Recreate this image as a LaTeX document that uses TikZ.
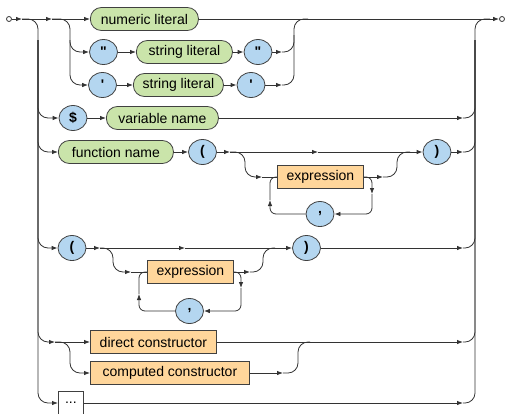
\documentclass[tikz,border=0pt]{standalone}
\usepackage{fontspec}
\setmainfont{Liberation Sans}
\usetikzlibrary{shapes.geometric,arrows.meta}

\definecolor{litgreen}{RGB}{202,228,170}
\definecolor{symblue}{RGB}{180,214,240}
\definecolor{prodorange}{RGB}{255,214,155}

\tikzstyle{track}=[draw=black!80, line width=0.8pt, rounded corners=10pt]
\tikzstyle{arr}=[track, -{Latex[length=6pt,width=4.5pt]}]
\tikzstyle{loopback}=[rounded corners=6pt]
\tikzstyle{literal}=[rectangle, rounded corners=11pt, draw=black!75, line width=0.8pt, fill=litgreen, minimum height=23pt, inner sep=0pt]
\tikzstyle{token}=[ellipse, draw=black!75, line width=0.8pt, fill=symblue, minimum width=28pt, minimum height=25pt, inner sep=0pt, font=\fontsize{14}{16}\selectfont\bfseries]
\tikzstyle{construct}=[rectangle, draw=black!75, line width=0.8pt, fill=prodorange, minimum height=23pt, inner sep=0pt]
\tikzstyle{other}=[rectangle, draw=black!75, line width=0.8pt, fill=white, minimum width=25pt, minimum height=24pt, inner sep=0pt]
\tikzstyle{endpoint}=[circle, draw=black!80, line width=0.8pt, fill=white, minimum size=5pt, inner sep=0pt]

\begin{document}
\begin{tikzpicture}[x=1pt, y=-1pt, font=\fontsize{14}{16}\selectfont]
    \useasboundingbox (0,0) rectangle (505,413);
    %Green literal nodes
    \foreach \name/\pos/\w/\txt in {{numlit/(90,19)/108/numeric literal},
                                    {strlitA/(136,52)/96/string literal},
                                    {strlitB/(133,85)/90/string literal},
                                    {varname/(106,118)/112/variable name},
                                    {fname/(58,152)/115/function name}}
    \node[literal, minimum width=\w pt, anchor=west] (\name) at \pos {\txt};
    %Blue tokens
    \foreach \name/\pos/\txt in {{dqA/(103.5,52)/\textquotedbl}, {dqB/(258,52)/\textquotedbl},
                                 {sqA/(102.5,85)/\textquotesingle}, {sqB/(251,85)/\textquotesingle},
                                 {dollar/(73,118)/\$}, {lpA/(202.5,152)/(}, {rpA/(437,152)/)},
                                 {commaA/(320,214)/,}, {lpB/(72,248)/(}, {rpB/(306.5,248)/)},
                                 {commaB/(189.5,311)/,}}
    \node[token] (\name) at \pos {\txt};
    %Orange constructs
    \foreach \name/\pos/\w/\txt in {{exprA/(277,177)/86/expression},
                                    {exprB/(147,272)/86/expression},
                                    {dirctor/(90,342)/126/direct constructor},
                                    {compctor/(90,373)/159/computed constructor}}
    \node[construct, minimum width=\w pt, anchor=west] (\name) at \pos {\txt};
    \node[other, anchor=west] (dots) at (58,403) {...};
    %Start and end
    \node[endpoint] (begin) at (9,19) {};
    \node[endpoint] (finish) at (502,19) {};

    %Junctions
    \coordinate (s1) at (22,19);   \coordinate (s2) at (52,19);
    \coordinate (l0) at (38,40);   \coordinate (l9) at (38,403);
    \coordinate (m0) at (70,40);   \coordinate (m3) at (70,85);
    \coordinate (u2) at (282,52);  \coordinate (u3) at (282,85);
    \coordinate (t0) at (294,19);  \coordinate (t1) at (308,19);  \coordinate (t2) at (294,35);
    \coordinate (r0) at (475,40);  \coordinate (r9) at (475,19);  \coordinate (e1) at (490,19);
    \foreach \name/\y in {v4/118, v5/152, v6/248, v7/342, v9/403}
    \coordinate (\name) at (463,\y);
    \coordinate (f1) at (230,152); \coordinate (f2) at (318,152);
    \coordinate (f3) at (245,177); \coordinate (f4) at (262,177);
    \coordinate (f5) at (372,194); \coordinate (f6) at (270,200);
    \coordinate (f7) at (383,177); \coordinate (f8) at (397,152); \coordinate (f9) at (410,152);
    \coordinate (g1) at (100,248); \coordinate (g2) at (185,248);
    \coordinate (g3) at (113,272); \coordinate (g4) at (131,272);
    \coordinate (g5) at (241,288); \coordinate (g6) at (139,294);
    \coordinate (g7) at (250,272); \coordinate (g8) at (263,248); \coordinate (g9) at (275,248);
    \coordinate (h1) at (55,342);  \coordinate (h2) at (70,373);
    \coordinate (k1) at (283,373); \coordinate (k2) at (298,342); \coordinate (k3) at (310,342);

    %Main line and rails
    \draw[arr] (begin) -- (s1);
    \draw[arr] (s1) -- (s2);
    \draw[arr] (s2) -- (numlit);
    \draw[arr] (numlit) -- (finish);
    \draw[arr] (s1) -| (l9) -- (dots.west);
    \draw[track] (v9) -| (r9) -- (e1);
    \foreach \name in {v4, v5, v6, v7}
    \draw[track] (\name) -| (r0);

    %Literals
    \draw[arr] (m0) |- (dqA.west);
    \draw[arr] (s2) -| (m3) -- (sqA.west);
    \draw[arr] (dqA) -- (strlitA);
    \draw[arr] (strlitA) -- (dqB);
    \draw[arr] (dqB) -- (u2);
    \draw[track] (u2) -| (t2);
    \draw[arr] (sqA) -- (strlitB);
    \draw[arr] (strlitB) -- (sqB);
    \draw[arr] (sqB) -- (u3);
    \draw[track] (u3) -| (t0) -- (t1);

    %Variable
    \draw[arr] (l0) |- (dollar.west);
    \draw[arr] (dollar) -- (varname);
    \draw[arr] (varname) -- (v4);

    %Function call
    \draw[arr] (l0) |- (fname.west);
    \draw[arr] (fname) -- (lpA);
    \draw[arr] (lpA) -- (f1);
    \draw[arr] (f1) -- (f2);
    \draw[arr] (f2) -- (rpA);
    \draw[arr] (f1) -| (f3) -- (f4);
    \draw[track] (f4) -- (exprA);
    \draw[arr, loopback] (exprA.east) -| (f5);
    \draw[arr, loopback] (f5) |- (commaA.east);
    \draw[arr, loopback] (commaA.west) -| (f6);
    \draw[track, loopback] (f6) |- (exprA.west);
    \draw[arr] (exprA.east) -- (f7);
    \draw[track] (f7) -| (f8) -- (f9);
    \draw[arr] (rpA) -- (v5);

    %Parenthesized
    \draw[arr] (l0) |- (lpB.west);
    \draw[arr] (lpB) -- (g1);
    \draw[arr] (g1) -- (g2);
    \draw[arr] (g2) -- (rpB);
    \draw[arr] (g1) -| (g3) -- (g4);
    \draw[track] (g4) -- (exprB);
    \draw[arr, loopback] (exprB.east) -| (g5);
    \draw[arr, loopback] (g5) |- (commaB.east);
    \draw[arr, loopback] (commaB.west) -| (g6);
    \draw[track, loopback] (g6) |- (exprB.west);
    \draw[arr] (exprB.east) -- (g7);
    \draw[track] (g7) -| (g8) -- (g9);
    \draw[arr] (rpB) -- (v6);

    %Constructors
    \draw[arr] (l0) |- (h1);
    \draw[arr] (h1) -- (dirctor);
    \draw[arr] (h1) -| (h2) -- (compctor.west);
    \draw[arr] (dirctor) -- (v7);
    \draw[arr] (compctor) -- (k1);
    \draw[track] (k1) -| (k2) -- (k3);

    %Other
    \draw[arr] (dots) -- (v9);
\end{tikzpicture}
\end{document}
